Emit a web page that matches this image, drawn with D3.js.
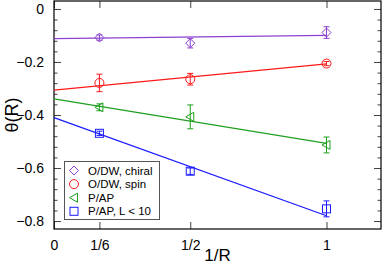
<!DOCTYPE html>
<html>
<head>
<script src="https://cdn.jsdelivr.net/npm/d3@7"></script>
<style>
  body { margin: 0; background: #fff; }
  svg { font-family: "Liberation Sans", Arial, sans-serif; }
</style>
</head>
<body>
<svg width="382" height="265"></svg>
<script>
// data
var xs = [1/6, 1/2, 1];
var chiral = [-0.108, -0.129, -0.089], chiralErr = [0.010, 0.018, 0.022];
var spin = [-0.279, -0.265, -0.206], spinErr = [0.033, 0.022, 0.008];
var pap = [-0.371, -0.407, -0.513], papErr = [0.013, 0.045, 0.030];
var papL = [-0.469, -0.612, -0.754], papLErr = [0.008, 0.012, 0.030];
var fitX = [0, 1];
var fitChiral = [-0.112, -0.100];
var fitSpin = [-0.306, -0.207];
var fitPap = [-0.339, -0.507];
var fitPapL = [-0.410, -0.780];
var xTicks = [0, 1/6, 1/2, 1], xTickLabels = ["0", "1/6", "1/2", "1"];
var yTicks = [0, -0.2, -0.4, -0.6, -0.8];
var yMinor = d3.range(0, 21).map(function(i) { return -0.04 * i; });

var series = [
  { name: "O/DW, chiral", y: chiral, err: chiralErr, fit: fitChiral, color: "#8c3fd0", sym: "diamond" },
  { name: "O/DW, spin", y: spin, err: spinErr, fit: fitSpin, color: "#ff1a1a", sym: "circle" },
  { name: "P/AP", y: pap, err: papErr, fit: fitPap, color: "#1f9f1f", sym: "tri" },
  { name: "P/AP, L < 10", y: papL, err: papLErr, fit: fitPapL, color: "#1a1aff", sym: "square" }
];

var L = 54, R = 381, T = 1, B = 229;
var svg = d3.select("svg");
var x = d3.scaleLinear().domain([0, 1.2]).range([L, R]);
var y = d3.scaleLinear().domain([-0.83, 0.03]).range([B, T]);

// ticks (inside, mirrored)
function tickAxis(axis, tx, ty) {
  var g = svg.append("g").attr("transform", "translate(" + tx + "," + ty + ")").call(axis);
  g.select(".domain").remove();
  g.selectAll("line").attr("stroke", "#444");
  return g;
}
tickAxis(d3.axisLeft(y).tickValues(yMinor).tickSize(-3.5).tickFormat(""), L, 0);
tickAxis(d3.axisRight(y).tickValues(yMinor).tickSize(-3.5).tickFormat(""), R, 0);
tickAxis(d3.axisRight(y).tickValues(yTicks).tickSize(-7).tickFormat(""), R, 0);
tickAxis(d3.axisTop(x).tickValues(xTicks).tickSize(-7).tickFormat(""), 0, T);
var gy = tickAxis(d3.axisLeft(y).tickValues(yTicks).tickSize(-7).tickPadding(10)
  .tickFormat(function(d) { return d === 0 ? "0" : d3.format(".1f")(d); }), L, 0);
gy.selectAll("text").attr("font-size", 14).attr("fill", "#000").attr("font-family", null);
var gx = tickAxis(d3.axisBottom(x).tickValues(xTicks).tickSize(-7).tickPadding(11)
  .tickFormat(function(d, i) { return xTickLabels[i]; }), 0, B);
gx.selectAll("text").attr("font-size", 14).attr("fill", "#000").attr("font-family", null);

// frame
svg.append("rect").attr("x", L).attr("y", T).attr("width", R - L).attr("height", B - T)
  .attr("fill", "none").attr("stroke", "#000").attr("stroke-width", 1.2);

// symbols
function drawSym(g, sym, cx, cy, color) {
  if (sym === "circle") {
    g.append("circle").attr("cx", cx).attr("cy", cy).attr("r", 4.5);
  } else if (sym === "square") {
    g.append("rect").attr("x", cx - 4).attr("y", cy - 4).attr("width", 8).attr("height", 8);
  } else if (sym === "diamond") {
    g.append("path").attr("d", "M" + cx + "," + (cy - 4.5) + "L" + (cx + 4.5) + "," + cy +
      "L" + cx + "," + (cy + 4.5) + "L" + (cx - 4.5) + "," + cy + "Z");
  } else {
    g.append("path").attr("d", "M" + (cx - 4.5) + "," + cy + "L" + (cx + 3.5) + "," + (cy - 4.5) +
      "L" + (cx + 3.5) + "," + (cy + 4.5) + "Z");
  }
  g.selectAll("*").attr("fill", "none").attr("stroke", color).attr("stroke-width", 1);
}

var line = d3.line().x(function(d) { return x(d[0]); }).y(function(d) { return y(d[1]); });
series.forEach(function(s) {
  svg.append("path").attr("d", line(fitX.map(function(v, i) { return [v, s.fit[i]]; })))
    .attr("fill", "none").attr("stroke", s.color).attr("stroke-width", 1.2);
  xs.forEach(function(xv, i) {
    var g = svg.append("g").attr("stroke", s.color);
    var cx = x(xv), y1 = y(s.y[i] + s.err[i]), y2 = y(s.y[i] - s.err[i]);
    g.append("line").attr("x1", cx).attr("x2", cx).attr("y1", y1).attr("y2", y2);
    g.append("line").attr("x1", cx - 3).attr("x2", cx + 3).attr("y1", y1).attr("y2", y1);
    g.append("line").attr("x1", cx - 3).attr("x2", cx + 3).attr("y1", y2).attr("y2", y2);
    drawSym(svg.append("g"), s.sym, cx, y(s.y[i]), s.color);
  });
});

// legend
var lg = svg.append("g");
lg.append("rect").attr("x", 64.5).attr("y", 161.5).attr("width", 95).attr("height", 58)
  .attr("fill", "#fff").attr("stroke", "#555").attr("stroke-width", 1);
series.forEach(function(s, i) {
  var cy = 170.5 + i * 13.6;
  drawSym(lg.append("g"), s.sym, 74, cy, s.color);
  lg.append("text").attr("x", 88).attr("y", cy + 4).attr("font-size", 11.5).text(s.name);
});

// axis titles
svg.append("text").attr("x", (L + R) / 2).attr("y", 261).attr("text-anchor", "middle")
  .attr("font-size", 17).text("1/R");
svg.append("text").attr("transform", "translate(18," + (T + B) / 2 + ") rotate(-90)")
  .attr("text-anchor", "middle").attr("font-size", 18).text("θ(R)");
</script>
</body>
</html>
